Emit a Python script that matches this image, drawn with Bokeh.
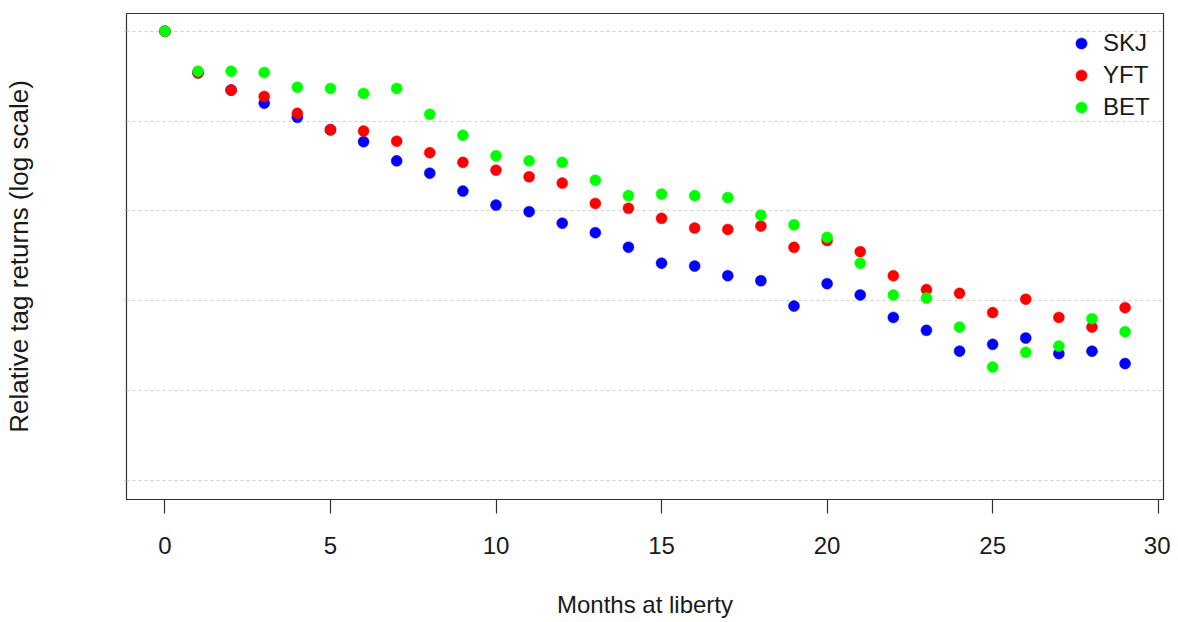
from bokeh.plotting import figure
from bokeh.models import (Range1d, FixedTicker, Legend, LegendItem,
                          CustomJSTickFormatter, ColumnDataSource)
from bokeh.embed import file_html
from bokeh.resources import INLINE

# ---- data ----
months = list(range(30))

skj = [1.0, 0.344, 0.221, 0.158, 0.110, 0.0800, 0.0589, 0.0361, 0.0263, 0.0166,
       0.0116, 0.00980, 0.00731, 0.00573, 0.00395, 0.00262, 0.00243, 0.00190, 0.00167, 0.000873,
       0.00155, 0.00116, 0.000653, 0.000469, 0.000275, 0.000327, 0.000385, 0.000258, 0.000275, 0.000200]

yft = [1.0, 0.344, 0.221, 0.188, 0.122, 0.0800, 0.0773, 0.0597, 0.0444, 0.0347,
       0.0284, 0.0240, 0.0204, 0.0121, 0.0107, 0.00826, 0.00644, 0.00622, 0.00678, 0.00393,
       0.00468, 0.00352, 0.00190, 0.00133, 0.00121, 0.000738, 0.00104, 0.000653, 0.000509, 0.000838]

bet = [1.0, 0.359, 0.359, 0.348, 0.238, 0.231, 0.203, 0.231, 0.119, 0.0697,
       0.0411, 0.0361, 0.0347, 0.0220, 0.0148, 0.0154, 0.0148, 0.0141, 0.00897, 0.00701,
       0.00509, 0.00262, 0.00116, 0.00107, 0.000509, 0.000183, 0.000267, 0.000313, 0.000632, 0.000453]

series_names = ["SKJ", "YFT", "BET"]
series_colors = ["#0000FF", "#FF0000", "#00FF00"]
x_ticks = [0, 5, 10, 15, 20, 25, 30]
y_grid = [1.0, 0.1, 0.01, 0.001, 0.0001, 0.00001]

FONT = "Liberation Sans"
TXT = "#1a1a1a"
FRAME = "#333333"

p = figure(
    frame_width=1037, frame_height=486,
    min_border_left=126, min_border_right=7, min_border_top=13, min_border_bottom=115,
    x_range=Range1d(-1.16, 30.16),
    y_range=Range1d(10 ** -5.212, 10 ** 0.197),
    y_axis_type="log",
    output_backend="svg", toolbar_location=None,
    background_fill_color="white", border_fill_color="white",
)

p.outline_line_color = FRAME
p.outline_line_width = 1.2

# grid
p.xgrid.visible = False
p.ygrid.ticker = FixedTicker(ticks=y_grid)
p.ygrid.grid_line_color = "#cfcfcf"
p.ygrid.grid_line_dash = "3 3"
p.ygrid.grid_line_width = 1

# x axis
xa = p.xaxis[0]
xa.ticker = FixedTicker(ticks=x_ticks)
xa.major_tick_out = 14
xa.major_tick_in = 0
xa.minor_tick_out = 0
xa.minor_tick_in = 0
xa.axis_line_color = FRAME
xa.major_tick_line_color = FRAME
xa.major_tick_line_width = 1.2
xa.major_label_text_font = FONT
xa.major_label_text_font_size = "24px"
xa.major_label_text_color = TXT
xa.major_label_standoff = 23
xa.axis_label = "Months at liberty"
xa.axis_label_text_font = FONT
xa.axis_label_text_font_size = "24px"
xa.axis_label_text_font_style = "normal"
xa.axis_label_text_color = TXT
xa.axis_label_standoff = 34

# y axis
ya = p.yaxis[0]
ya.ticker = FixedTicker(ticks=y_grid)
ya.formatter = CustomJSTickFormatter(code="return ''")
ya.major_tick_out = 2
ya.major_tick_in = 0
ya.minor_tick_out = 0
ya.minor_tick_in = 0
ya.axis_line_color = FRAME
ya.major_tick_line_color = "#bbbbbb"
ya.major_label_standoff = 0
ya.axis_label = "Relative tag returns (log scale)"
ya.axis_label_text_font = FONT
ya.axis_label_text_font_size = "26px"
ya.axis_label_text_font_style = "normal"
ya.axis_label_text_color = TXT
ya.axis_label_standoff = 91

# points
items = []
for name, vals, col in zip(series_names, [skj, yft, bet], series_colors):
    src = ColumnDataSource(dict(x=months, y=vals))
    r = p.scatter("x", "y", source=src, size=11, fill_color=col, line_color=col,
                  line_width=0.5)
    items.append(LegendItem(label=name, renderers=[r]))

legend = Legend(items=items, location=(941, 378))
legend.border_line_color = None
legend.background_fill_alpha = 0
legend.padding = 0
legend.margin = 0
legend.spacing = 4
legend.glyph_width = 28
legend.glyph_height = 28
legend.label_height = 28
legend.label_standoff = 8
legend.label_text_font = FONT
legend.label_text_font_size = "24px"
legend.label_text_color = TXT
p.add_layout(legend)

open("out.html", "w").write(file_html(p, INLINE))
